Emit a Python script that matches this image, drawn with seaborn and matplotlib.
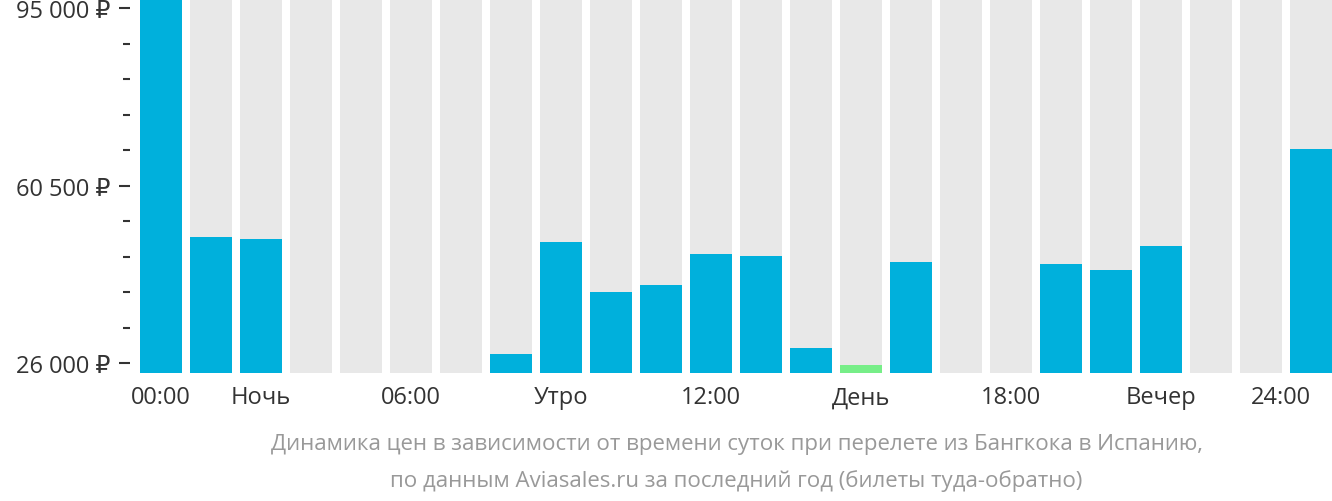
import matplotlib
matplotlib.use("Agg")
import matplotlib.pyplot as plt
import seaborn as sns
import pandas as pd
import numpy as np

hours = list(range(24))
prices = [97000, 50560, 50170, None, None, None, None, 27750, 49580, 39840, 41200, 47240,
          46850, 28920, 25600, 45680, None, None, 45300, 44130, 48800, None, None, 67700]
cheapest_hour = 14
tick_labels = ["00:00", "Ночь", "06:00", "Утро", "12:00", "День", "18:00", "Вечер", "24:00"]
tick_hours = [0, 2, 5, 8, 11, 14, 17, 20, 23]
caption = ["Динамика цен в зависимости от времени суток при перелете из Бангкока в Испанию,",
           "по данным Aviasales.ru за последний год (билеты туда-обратно)"]

ymin, ymax = 24050, 96800
plt.rcParams["font.family"] = ["Open Sans", "DejaVu Sans"]
fig = plt.figure(figsize=(13.32, 5.02), dpi=100)
ax = fig.add_axes([130/1332, 128/502, 1202/1332, 374/502])

df = pd.DataFrame({"hour": hours, "price": prices})
df["bg"] = ymax
sns.barplot(data=df, x="hour", y="bg", color="#e8e8e8", width=0.84, ax=ax, saturation=1)
vals = df["price"].fillna(0)
cols = ["#77ee88" if h == cheapest_hour else "#00b0dc" for h in hours]
sns.barplot(x=df["hour"], y=vals, hue=df["hour"], palette=cols, legend=False,
            width=0.84, ax=ax, saturation=1)
ax.set_ylim(ymin, ymax)
ax.set_xlim(-0.62, 23.42)
for s in ax.spines.values():
    s.set_visible(False)
ax.set_xticks(tick_hours)
ax.set_xticklabels(tick_labels, fontsize=17, color="#333333")
ax.get_xticklabels()[-1].set_horizontalalignment("right")
ax.get_xticklabels()[-1].set_x(23.4)
ax.tick_params(axis="x", length=0, pad=9)
ax.set_yticks([26000, 60500, 95000])
ax.set_yticklabels(["26 000 ₽", "60 500 ₽", "95 000 ₽"], fontsize=17, color="#333333")
ax.set_yticks(list(np.arange(26000, 95000, 6900)), minor=True)
ax.tick_params(axis="y", which="major", length=8, width=1.5, color="#333333", pad=6)
ax.tick_params(axis="y", which="minor", length=5, width=1.5, color="#333333")
ax.set_xlabel(""); ax.set_ylabel("")
fig.text(0.553, 1 - 445/502, caption[0], ha="center", va="center", fontsize=16, color="#999999")
fig.text(0.553, 1 - 481/502, caption[1], ha="center", va="center", fontsize=16, color="#999999")
fig.savefig("out.png", dpi=100)
